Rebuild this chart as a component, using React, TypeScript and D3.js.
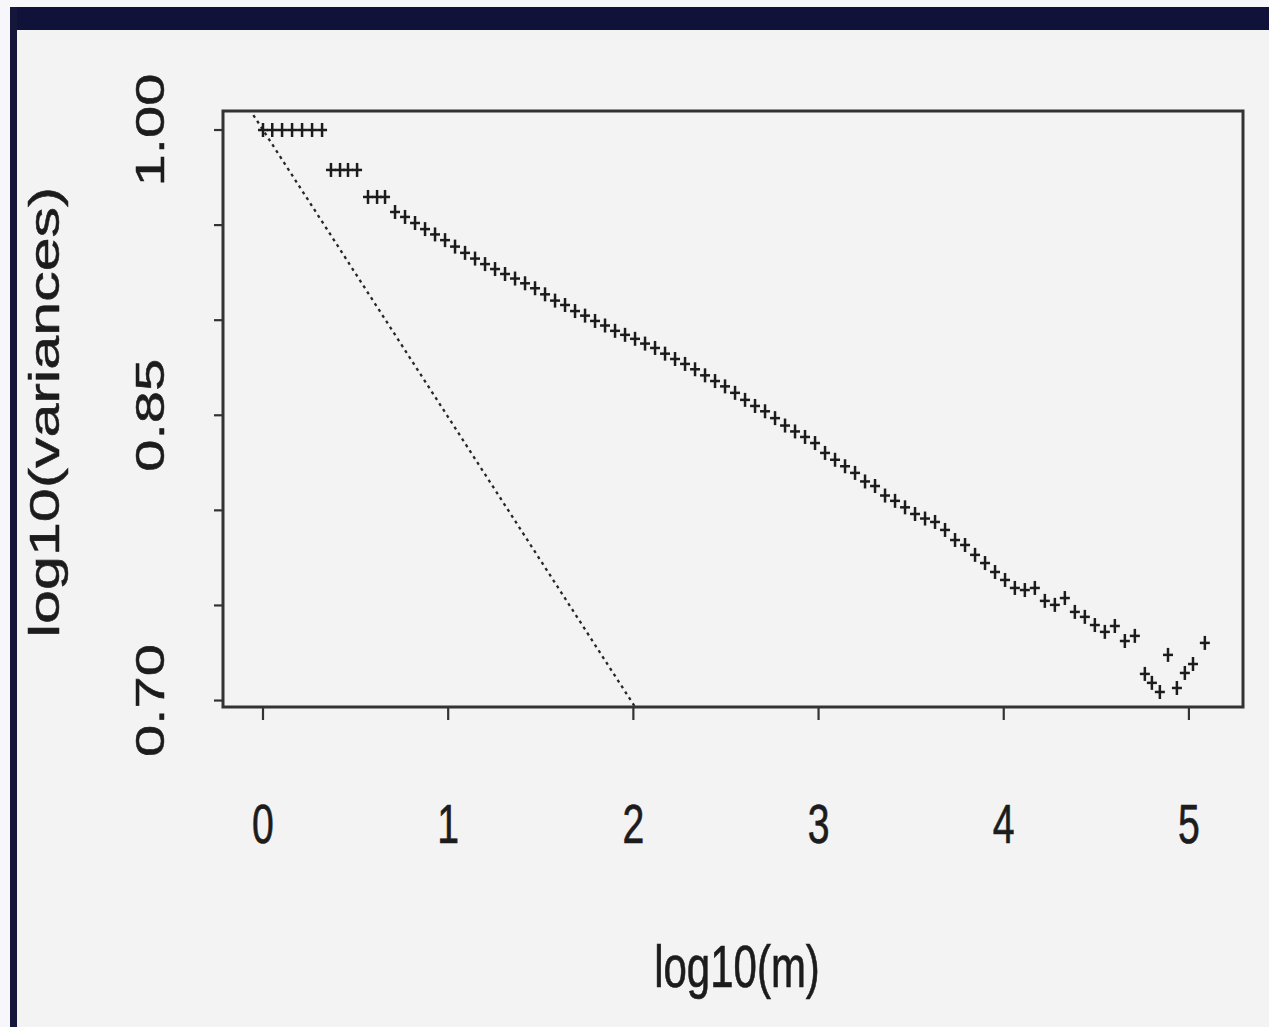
import React from "react";
import * as d3 from "d3";

// log10(m) values of the plotted points
const logM = [
  0, 0.05, 0.103, 0.157, 0.211, 0.265, 0.319,
  0.367, 0.416, 0.459, 0.508,
  0.567, 0.616, 0.659,
  0.713, 0.767, 0.821, 0.875, 0.929, 0.983, 1.037, 1.091, 1.145, 1.199,
  1.253, 1.307, 1.361, 1.415, 1.469, 1.523, 1.577, 1.631, 1.685, 1.739,
  1.793, 1.847, 1.901, 1.955, 2.009, 2.063, 2.117, 2.171, 2.225, 2.279,
  2.333, 2.387, 2.441, 2.495, 2.549, 2.603, 2.657, 2.711, 2.765, 2.819,
  2.873, 2.927, 2.981, 3.035, 3.089, 3.143, 3.197, 3.251, 3.305, 3.359,
  3.413, 3.467, 3.521, 3.575, 3.629, 3.683, 3.737, 3.791, 3.845, 3.899,
  3.953, 4.007,
  4.06, 4.114, 4.168, 4.222, 4.276, 4.33, 4.384, 4.438, 4.492, 4.546,
  4.6, 4.654, 4.708, 4.762, 4.8, 4.843, 4.887, 4.935, 4.978, 5.022, 5.086,
];

// log10(variances) of the plotted points
const logVar = [
  1.0, 1.0, 1.0, 1.0, 1.0, 1.0, 1.0,
  0.979, 0.979, 0.979, 0.979,
  0.9648, 0.9648, 0.9648,
  0.9569, 0.9543, 0.9511, 0.9479, 0.9451, 0.9421, 0.9387, 0.9354, 0.9324, 0.9295,
  0.9269, 0.9243, 0.9219, 0.9194, 0.9168, 0.9136, 0.9103, 0.908, 0.9048, 0.9024,
  0.8996, 0.8972, 0.8944, 0.8923, 0.8902, 0.8877, 0.8854, 0.8824, 0.8796, 0.877,
  0.8742, 0.871, 0.868, 0.8652, 0.8618, 0.8581, 0.8549, 0.8521, 0.8485, 0.8446,
  0.8415, 0.8386, 0.8354, 0.8302, 0.8266, 0.8232, 0.8197, 0.8152, 0.8128, 0.8078,
  0.805, 0.8016, 0.7981, 0.7957, 0.7939, 0.7897, 0.7844, 0.7818, 0.7766, 0.7723,
  0.7676, 0.7634,
  0.7592, 0.7581, 0.7592, 0.7524, 0.7503, 0.7539, 0.7466, 0.744, 0.7397, 0.7361,
  0.7392, 0.7313, 0.734, 0.714, 0.7093, 0.7045, 0.724, 0.7066, 0.7145, 0.7192, 0.7303,
];

const xTicks = [0, 1, 2, 3, 4, 5];
const xTickLabels = ["0", "1", "2", "3", "4", "5"];
const yTicks = [0.7, 0.75, 0.8, 0.85, 0.9, 0.95, 1.0];
const yLabelTicks = [0.7, 0.85, 1.0];
const yLabelTexts = ["0.70", "0.85", "1.00"];

// reference line: log10(var) = intercept + slope * log10(m)
const refIntercept = 1.0;
const refSlope = -0.151;

const W = 1269;
const H = 1027;
const L = 223, R = 1243, T = 111, B = 707;

export default function App() {
  const x = d3.scaleLinear().domain([-0.216, 5.292]).range([L, R]);
  const y = d3.scaleLinear().domain([0.6966, 1.01]).range([B, T]);
  const font = "'Liberation Sans', Arial, Helvetica, sans-serif";
  const ink = "#1c1c1c";
  const xd = x.domain();
  const refLine = d3.line<number>()
    .x((d) => x(d))
    .y((d) => y(refIntercept + refSlope * d))(xd);

  const ph = 7; // plus half height
  const pw = 5; // plus half width

  return (
    <svg
      width={W}
      height={H}
      style={{ position: "absolute", left: 0, top: 0, display: "block" }}
    >
      <rect x={0} y={0} width={W} height={H} fill="#f7f7fb" />
      <rect x={16} y={30} width={W - 16} height={H - 30} fill="#f3f3f3" />
      <rect x={10} y={7} width={W - 10} height={23} fill="#10123a" />
      <rect x={10} y={7} width={7} height={H - 7} fill="#14163c" />

      <defs>
        <clipPath id="plotclip">
          <rect x={L} y={T} width={R - L} height={B - T} />
        </clipPath>
      </defs>

      {/* reference dotted line */}
      <path
        d={refLine || ""}
        clipPath="url(#plotclip)"
        fill="none"
        stroke="#262626"
        strokeWidth={2.3}
        strokeDasharray="3,4"
      />

      {/* points */}
      <g stroke={ink} strokeWidth={2.5}>
        {logM.map((m, i) => {
          const cx = x(m);
          const cy = y(logVar[i]);
          return (
            <g key={i}>
              <line x1={cx - pw} x2={cx + pw} y1={cy} y2={cy} />
              <line x1={cx} x2={cx} y1={cy - ph} y2={cy + ph} />
            </g>
          );
        })}
      </g>

      {/* box */}
      <rect x={L} y={T} width={R - L} height={B - T} fill="none" stroke="#333" strokeWidth={3} />

      {/* axis ticks */}
      <g stroke="#333" strokeWidth={2.2}>
        {xTicks.map((t) => (
          <line key={t} x1={x(t)} x2={x(t)} y1={B} y2={B + 13} />
        ))}
        {yTicks.map((t) => (
          <line key={t} x1={L} x2={L - 9} y1={y(t)} y2={y(t)} />
        ))}
      </g>

      <g fontFamily={font} fill={ink} stroke={ink} strokeWidth={0.7}>
        {xTicks.map((t, i) => (
          <text
            key={t}
            transform={`translate(${x(t)},843) scale(0.7,1)`}
            textAnchor="middle"
            fontSize={56}
          >
            {xTickLabels[i]}
          </text>
        ))}
        {yLabelTicks.map((t, i) => (
          <text
            key={t}
            transform={`translate(164,${y(t)}) rotate(-90) scale(1,0.7)`}
            textAnchor="middle"
            fontSize={58}
          >
            {yLabelTexts[i]}
          </text>
        ))}
        <text
          transform={`translate(737,987) scale(0.7,1)`}
          textAnchor="middle"
          fontSize={60}
        >
          log10(m)
        </text>
        <text
          transform={`translate(59,412) rotate(-90) scale(1,0.7)`}
          textAnchor="middle"
          fontSize={61}
        >
          log10(variances)
        </text>
      </g>
    </svg>
  );
}
